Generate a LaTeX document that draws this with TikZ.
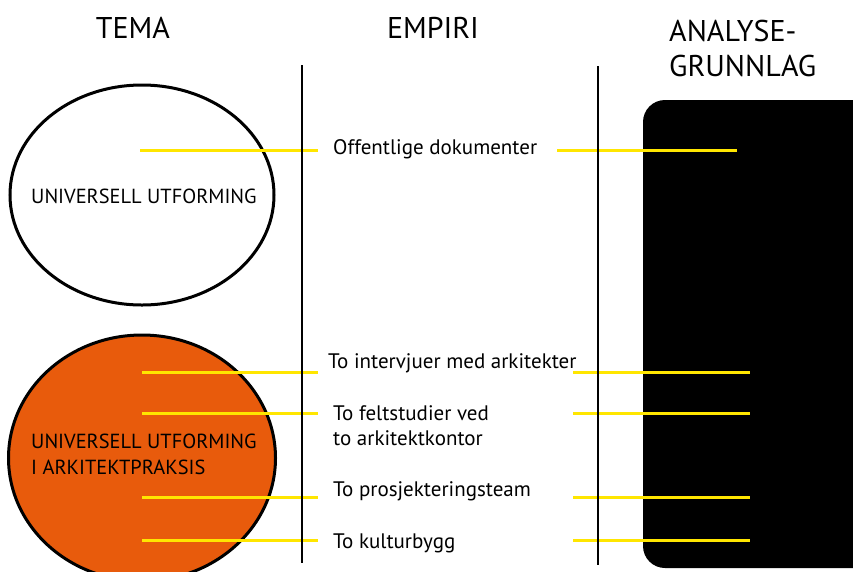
\documentclass[tikz,border=0pt]{standalone}
\usepackage{fontspec}
\setmainfont{PT Sans}
\usetikzlibrary{positioning,shapes.geometric}
\definecolor{oransje}{HTML}{E85B0C}
\definecolor{gul}{HTML}{FFE600}

\begin{document}
\begin{tikzpicture}[x=1pt,y=-1pt,
    overskrift/.style={font=\fontsize{30}{35}\selectfont},
    tekst/.style={font=\fontsize{21}{25}\selectfont, align=left, inner sep=0pt, anchor=west},
    tema/.style={ellipse, draw=black, line width=3pt, minimum width=264pt, minimum height=220pt},
    strek/.style={gul, line width=3pt}]
    \useasboundingbox (0,0) rectangle (853,571);
    \begin{scope}
    \clip (0,0) rectangle (853,571);

    % Draw the headings
    \node[overskrift] (tema) at (133,28) {TEMA};
    \node[overskrift] (empiri) at (433,28) {EMPIRI};
    \node[overskrift, align=left, anchor=north west, inner sep=0pt] (analyse) at (669,20) {ANALYSE-\\GRUNNLAG};

    % Column dividers
    \coordinate (d1top) at (302,65);  \coordinate (d1bot) at (302,563);
    \coordinate (d2top) at (598,66);  \coordinate (d2bot) at (598,565);

    % The two themes
    \node[tema, fill=white] (uu) at (142,195) {};
    \node[tema, fill=oransje, minimum width=267pt, minimum height=246pt] (uua) at (142,458) {};
    \node[font=\fontsize{20.4}{26}\selectfont, align=left, anchor=west, inner sep=0pt] (uutekst) at (31,196) {UNIVERSELL UTFORMING};
    \node[font=\fontsize{20.4}{26}\selectfont, align=left, anchor=west, inner sep=0pt] (uuatekst) at (31,454) {UNIVERSELL UTFORMING\\I ARKITEKTPRAKSIS};

    % Analysis box
    \fill[black, rounded corners=22pt] (643,100) rectangle (900,568);

    % Empirical material
    \node[tekst] (dok) at (333,149) {Offentlige dokumenter};
    \node[tekst] (intervju) at (328,363) {To intervjuer med arkitekter};
    \node[tekst] (felt) at (333,426) {To feltstudier ved\\to arkitektkontor};
    \node[tekst] (team) at (333,491) {To prosjekteringsteam};
    \node[tekst] (bygg) at (333,543) {To kulturbygg};

    % Yellow connectors
    \coordinate (a1) at (140,150);  \coordinate (b1) at (737,150);
    \coordinate (a2) at (142,372);  \coordinate (b2) at (750,372);
    \coordinate (a3) at (142,413);  \coordinate (b3) at (750,413);
    \coordinate (a4) at (142,497);  \coordinate (b4) at (750,497);
    \coordinate (a5) at (142,540);  \coordinate (b5) at (750,540);
    \draw[strek] (a1) -- ([xshift=-15pt]a1 -| dok.west);
    \draw[strek] ([xshift=20pt]b1 -| dok.east) -- (b1);
    \foreach \n/\t in {2/intervju,3/felt,4/team,5/bygg} {
        \draw[strek] (a\n) -- (318,0 |- a\n);
        \draw[strek] (573,0 |- b\n) -- (b\n);
    }

    \draw[line width=1.2pt] (d1top) -- (d1bot);
    \draw[line width=1.2pt] (d2top) -- (d2bot);
    \end{scope}
\end{tikzpicture}
\end{document}
